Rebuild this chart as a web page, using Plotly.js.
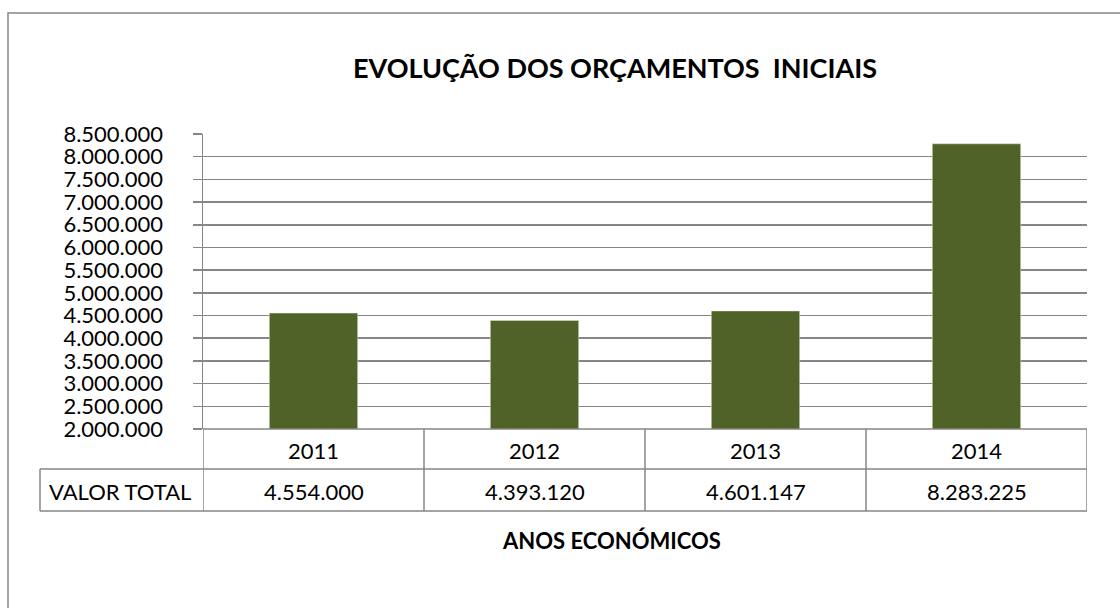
<!DOCTYPE html>
<html>
<head>
<meta charset="utf-8">
<script src="https://cdn.plot.ly/plotly-3.0.1.min.js"></script>
<style>
  html, body { margin: 0; padding: 0; background: #fff; }
  #plot { width: 1120px; height: 608px; }
</style>
</head>
<body>
<div id="plot"></div>
<script>
// data
var anos = ["2011", "2012", "2013", "2014"];
var valores = [4554000, 4393120, 4601147, 8283225];
var valorLabels = ["4.554.000", "4.393.120", "4.601.147", "8.283.225"];
var rowLabel = "VALOR TOTAL";

var W = 1120, H = 608;
var L = 203, R = 1087, T = 134, B = 429;   // plot area in pixels
var plotW = R - L, plotH = B - T;
function px(x) { return (x - L) / plotW; }
function py(y) { return (B - y) / plotH; }

var grey = "#868686";
var font = "Lato, 'Open Sans', sans-serif";
var cellSize = 22;

var trace = {
    x: anos,
    y: valores,
    type: "bar",
    width: 0.4,
    marker: { color: "#4F6228", line: { color: "#e8ecdc", width: 0.5 } },
    hoverinfo: "x+y"
};

var rowY1 = 469, rowY2 = 511;

// table lines
var shapes = [];
function hline(x0, x1, y) {
    shapes.push({ type: "line", xref: "paper", yref: "paper",
        x0: px(x0), x1: px(x1), y0: py(y), y1: py(y),
        line: { color: grey, width: 1.5 } });
}
function vline(xCat, y0, y1) {
    shapes.push({ type: "line", xref: "x", yref: "paper",
        x0: xCat, x1: xCat, y0: py(y0), y1: py(y1),
        line: { color: grey, width: 1.5 } });
}
hline(L, R, B);
hline(40, R, rowY1);
hline(40, R, rowY2);
shapes.push({ type: "line", xref: "paper", yref: "paper",
    x0: px(40), x1: px(40), y0: py(rowY1), y1: py(rowY2),
    line: { color: grey, width: 1.5 } });
vline(-0.5, B, rowY2);
for (var i = 0; i < anos.length; i++) vline(i + 0.5, B, rowY2);

// outer chart border
shapes.push({ type: "rect", xref: "paper", yref: "paper",
    x0: px(8), x1: px(1200), y0: py(13), y1: py(700),
    line: { color: grey, width: 1.5 }, fillcolor: "rgba(0,0,0,0)", layer: "below" });

function note(x, xref, y, text, size) {
    return { x: x, xref: xref, y: y, yref: "paper", text: text, showarrow: false,
        xanchor: "center", yanchor: "middle",
        font: { family: font, size: size, color: "#000" } };
}

var annotations = [];
anos.forEach(function (a, i) {
    annotations.push(note(i, "x", py((B + rowY1) / 2 + 1), a, cellSize));
    annotations.push(note(i, "x", py((rowY1 + rowY2) / 2 + 1), valorLabels[i], cellSize));
});
annotations.push(note(px(120), "paper", py((rowY1 + rowY2) / 2 + 1), rowLabel, cellSize));
annotations.push(note(px(615), "paper", py(67), "<b>EVOLUÇÃO DOS ORÇAMENTOS  INICIAIS</b>", 27));
annotations.push(note(px(611), "paper", py(540), "<b>ANOS ECONÓMICOS</b>", 22));

var layout = {
    width: W, height: H,
    margin: { l: L, r: W - R, t: T, b: H - B, pad: 0 },
    paper_bgcolor: "#fff",
    plot_bgcolor: "#fff",
    separators: ",.",
    showlegend: false,
    xaxis: {
        type: "category",
        showticklabels: false,
        ticks: "",
        showgrid: false,
        zeroline: false,
        range: [-0.5, 3.5]
    },
    yaxis: {
        range: [2000000, 8500000],
        tick0: 0,
        dtick: 500000,
        tickformat: ",d",
        ticks: "outside",
        ticklen: 9,
        tickwidth: 1.5,
        tickcolor: grey,
        ticklabelstandoff: 25,
        showgrid: true,
        gridcolor: grey,
        gridwidth: 1.5,
        showline: true,
        linecolor: grey,
        linewidth: 1.5,
        zeroline: false,
        tickfont: { family: font, size: cellSize, color: "#000" }
    },
    shapes: shapes,
    annotations: annotations
};

Plotly.newPlot("plot", [trace], layout, { displayModeBar: false, staticPlot: true });
</script>
</body>
</html>
